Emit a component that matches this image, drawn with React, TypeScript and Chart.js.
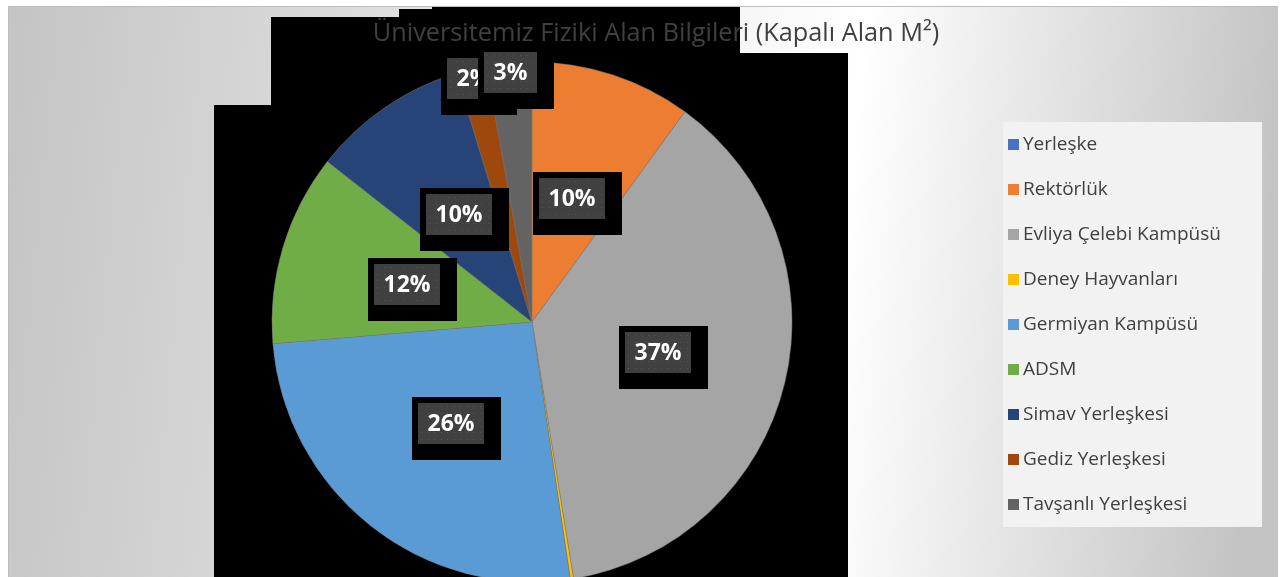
import React, { useEffect, useRef } from 'react';
import { Chart, registerables } from 'chart.js';

Chart.register(...registerables);

const categories = [
  'Yerleşke',
  'Rektörlük',
  'Evliya Çelebi Kampüsü',
  'Deney Hayvanları',
  'Germiyan Kampüsü',
  'ADSM',
  'Simav Yerleşkesi',
  'Gediz Yerleşkesi',
  'Tavşanlı Yerleşkesi',
];
const areaShares = [0, 10.0, 37.4, 0.2, 26.0, 11.9, 9.7, 1.9, 2.8];
const sliceColors = ['#4472C4', '#ED7D31', '#A5A5A5', '#FFC000', '#5B9BD5', '#70AD47', '#264478', '#9E480E', '#636363'];
const chartTitle = 'Üniversitemiz Fiziki Alan Bilgileri (Kapalı Alan M²)';

const W = 1270;
const H = 571;
const FONT = '"Open Sans", "DejaVu Sans", sans-serif';

const backdropPlugin = {
  id: 'backdrop',
  beforeDraw(chart: any) {
    const ctx = chart.ctx as CanvasRenderingContext2D;
    ctx.save();
    const g = ctx.createLinearGradient(0, 0, W, 120);
    g.addColorStop(0, '#c4c4c4');
    g.addColorStop(0.67, '#ffffff');
    g.addColorStop(1, '#c4c4c4');
    ctx.fillStyle = g;
    ctx.fillRect(0, 0, W, H);
    ctx.fillStyle = '#bdbdbd';
    ctx.fillRect(0, 0, W, 1);
    ctx.fillRect(0, 0, 1, H);

    // black backdrop region behind the plot
    const pts = [
      [263, 11], [391, 11], [391, 3], [424, 3], [424, 1], [732, 1], [732, 47],
      [840, 47], [840, H], [206, H], [206, 99], [263, 99],
    ];
    ctx.fillStyle = '#000000';
    ctx.beginPath();
    pts.forEach(([x, y], i) => (i ? ctx.lineTo(x, y) : ctx.moveTo(x, y)));
    ctx.closePath();
    ctx.fill();

    // title
    ctx.fillStyle = '#404040';
    ctx.font = `25.3px ${FONT}`;
    ctx.textAlign = 'center';
    ctx.textBaseline = 'alphabetic';
    ctx.fillText(chartTitle, 648, 35);

    // legend
    const lx = 995, ly = 116, lw = 259, lh = 405;
    ctx.fillStyle = '#f2f2f2';
    ctx.fillRect(lx, ly, lw, lh);
    ctx.font = `19px ${FONT}`;
    ctx.textAlign = 'left';
    ctx.textBaseline = 'middle';
    const labels = chart.data.labels as string[];
    const colors = chart.data.datasets[0].backgroundColor as string[];
    labels.forEach((lab, i) => {
      const cy = 138 + i * 45;
      ctx.fillStyle = colors[i];
      ctx.fillRect(1000, cy - 5, 11, 11);
      ctx.fillStyle = '#404040';
      ctx.fillText(lab, 1015, cy + 1);
    });
    ctx.restore();
  },
};

const labelPlugin = {
  id: 'sliceLabels',
  afterDatasetsDraw(chart: any) {
    const ctx = chart.ctx as CanvasRenderingContext2D;
    const meta = chart.getDatasetMeta(0);
    const data = chart.data.datasets[0].data as number[];
    const total = data.reduce((a, b) => a + b, 0);
    ctx.save();
    ctx.font = `bold 23px ${FONT}`;
    ctx.textAlign = 'center';
    ctx.textBaseline = 'middle';
    meta.data.forEach((arc: any, i: number) => {
      const pct = Math.round((data[i] / total) * 100);
      if (pct < 1) return;
      const { x, y, startAngle, endAngle, outerRadius } = arc.getProps(['x', 'y', 'startAngle', 'endAngle', 'outerRadius'], true);
      const mid = (startAngle + endAngle) / 2;
      const d = pct < 5 ? outerRadius * 0.962 : outerRadius * 0.5;
      const cx = x + Math.cos(mid) * d;
      const cy = y + Math.sin(mid) * d;
      const text = `${pct}%`;
      const tw = ctx.measureText(text).width;
      const bw = Math.round(tw + 19);
      const bh = 41;
      const bx = Math.round(cx - bw / 2);
      const by = Math.round(cy - bh / 2);
      ctx.fillStyle = '#000000';
      ctx.fillRect(bx - 6, by - 6, bw + 23, bh + 22);
      ctx.fillStyle = '#404040';
      ctx.fillRect(bx, by, bw, bh);
      ctx.fillStyle = '#555555';
      for (let py = by + 3; py < by + bh - 1; py += 6.5) {
        for (let px = bx + 3; px < bx + bw - 1; px += 6.5) {
          ctx.fillRect(Math.round(px), Math.round(py), 1, 1);
        }
      }
      ctx.fillStyle = '#ffffff';
      ctx.fillText(text, bx + bw / 2, by + bh / 2 + 1);
    });
    ctx.restore();
  },
};

export default function App() {
  const ref = useRef<HTMLCanvasElement | null>(null);
  useEffect(() => {
    if (!ref.current) return;
    const chart = new Chart(ref.current, {
      type: 'pie',
      data: {
        labels: categories,
        datasets: [
          {
            data: areaShares,
            backgroundColor: sliceColors,
            borderWidth: 0.5,
            borderColor: '#7f7f7f',
          },
        ],
      },
      options: {
        responsive: false,
        animation: false,
        devicePixelRatio: 1,
        radius: 260,
        layout: { padding: { left: 0, right: 222, top: 61, bottom: 0 } },
        plugins: {
          legend: { display: false },
          title: { display: false },
          tooltip: { enabled: false },
        },
      } as any,
      plugins: [backdropPlugin, labelPlugin],
    });
    return () => chart.destroy();
  }, []);
  return (
    <div style={{ position: 'absolute', left: 8, top: 6, width: W, height: H, overflow: 'hidden' }}>
      <canvas ref={ref} width={W} height={H} style={{ display: 'block', width: W, height: H }} />
    </div>
  );
}
